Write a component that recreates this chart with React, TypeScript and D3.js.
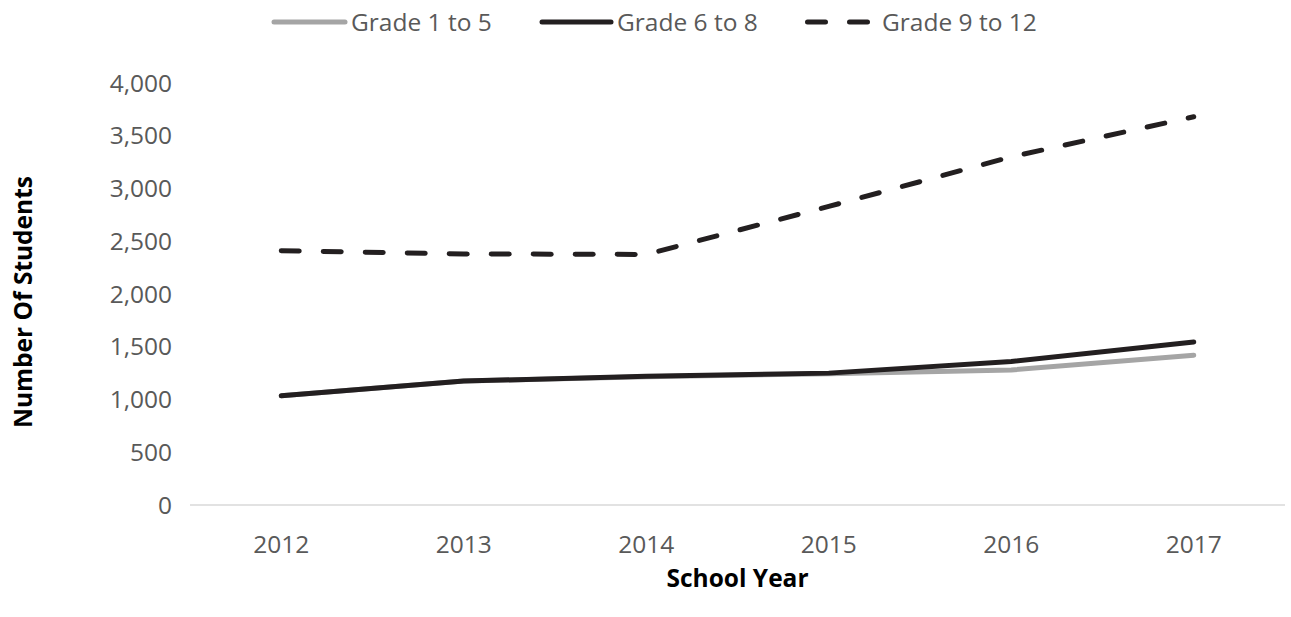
import { useEffect, useRef } from 'react';
import * as d3 from 'd3';

const years = ['2012', '2013', '2014', '2015', '2016', '2017'];
const grade1to5 = [1035, 1175, 1215, 1245, 1280, 1420];
const grade6to8 = [1035, 1175, 1220, 1250, 1360, 1545];
const grade9to12 = [2410, 2380, 2375, 2830, 3300, 3680];
const yTicks = [0, 500, 1000, 1500, 2000, 2500, 3000, 3500, 4000];

const series = [
  { name: 'Grade 1 to 5', values: grade1to5, color: '#a5a5a5', dash: null as string | null },
  { name: 'Grade 6 to 8', values: grade6to8, color: '#231f20', dash: null as string | null },
  { name: 'Grade 9 to 12', values: grade9to12, color: '#231f20', dash: '18,24' },
];

export default function App() {
  const ref = useRef<HTMLDivElement>(null);
  useEffect(() => {
    document.body.style.margin = '0';
    const width = 1291;
    const height = 617;
    const marginLeft = 190;
    const marginRight = 6;
    const marginTop = 83;
    const plotBottom = 505;
    const font = '"Open Sans", "Noto Sans", sans-serif';
    const fontSize = 24.5;

    const x = d3.scaleBand<string>()
      .domain(years)
      .range([marginLeft, width - marginRight]);

    const y = d3.scaleLinear()
      .domain([0, 4000])
      .range([plotBottom, marginTop]);

    const svg = d3.create('svg')
      .attr('width', width)
      .attr('height', height)
      .attr('viewBox', [0, 0, width, height])
      .style('display', 'block')
      .style('font-family', font);

    // y tick labels
    svg.append('g')
      .selectAll('text')
      .data(yTicks)
      .join('text')
      .attr('x', 172)
      .attr('y', (d) => y(d))
      .attr('dy', '0.35em')
      .attr('text-anchor', 'end')
      .attr('fill', '#595959')
      .attr('font-size', fontSize)
      .text((d) => d3.format(',')(d));

    // x axis line
    svg.append('line')
      .attr('x1', marginLeft)
      .attr('x2', width - marginRight)
      .attr('y1', y(0))
      .attr('y2', y(0))
      .attr('stroke', '#d9d9d9')
      .attr('stroke-width', 1.5);

    // x tick labels
    svg.append('g')
      .selectAll('text')
      .data(years)
      .join('text')
      .attr('x', (d) => x(d)! + x.bandwidth() / 2)
      .attr('y', 553)
      .attr('text-anchor', 'middle')
      .attr('fill', '#595959')
      .attr('font-size', fontSize)
      .text((d) => d);

    // lines
    const line = d3.line<number>()
      .x((_, i) => x(years[i])! + x.bandwidth() / 2)
      .y((d) => y(d));

    series.forEach((s) => {
      svg.append('path')
        .attr('d', line(s.values))
        .attr('fill', 'none')
        .attr('stroke', s.color)
        .attr('stroke-width', 5)
        .attr('stroke-linecap', 'round')
        .attr('stroke-linejoin', 'round')
        .attr('stroke-dasharray', s.dash);
    });

    // axis titles
    svg.append('text')
      .attr('x', (marginLeft + width - marginRight) / 2)
      .attr('y', 587)
      .attr('text-anchor', 'middle')
      .attr('font-weight', 'bold')
      .attr('font-size', fontSize)
      .attr('fill', '#000')
      .text('School Year');

    svg.append('text')
      .attr('transform', 'translate(32,302) rotate(-90)')
      .attr('text-anchor', 'middle')
      .attr('font-weight', 'bold')
      .attr('font-size', fontSize)
      .attr('fill', '#000')
      .text('Number Of Students');

    // legend
    const legendX = [274, 542, 807.5];
    const legendLen = [71, 69, 60];
    const legendText = [77, 75, 74.5];
    const lg = svg.append('g')
      .selectAll('g')
      .data(series)
      .join('g')
      .attr('transform', (_, i) => `translate(${legendX[i]},22)`);

    lg.append('line')
      .attr('x1', 0)
      .attr('x2', (_, i) => legendLen[i])
      .attr('stroke', (d) => d.color)
      .attr('stroke-width', 5)
      .attr('stroke-linecap', 'round')
      .attr('stroke-dasharray', (d) => d.dash);

    lg.append('text')
      .attr('x', (_, i) => legendText[i])
      .attr('dy', '0.35em')
      .attr('fill', '#595959')
      .attr('font-size', fontSize)
      .text((d) => d.name);

    const node = svg.node()!;
    ref.current?.append(node);
    return () => {
      node.remove();
    };
  });
  return <div ref={ref}></div>;
}
